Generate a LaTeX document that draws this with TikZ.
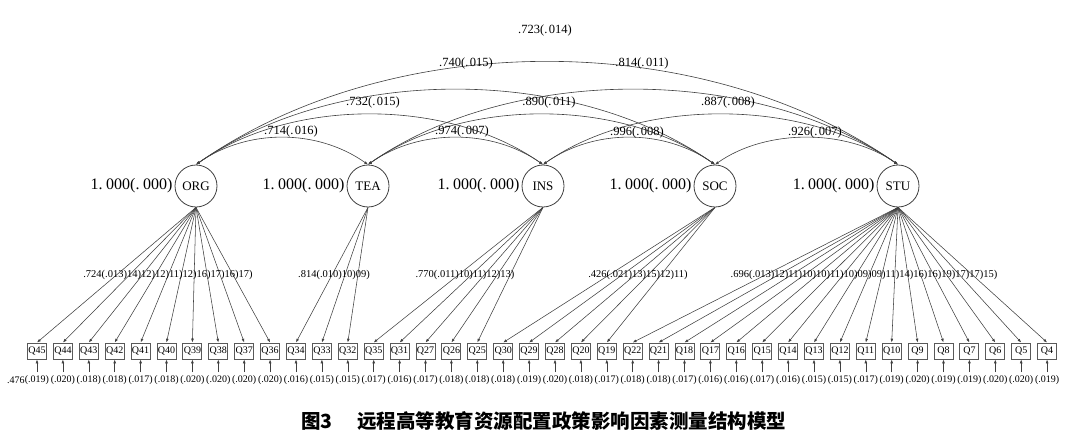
\documentclass[tikz,border=0pt]{standalone}
\usepackage{fontspec}
\setmainfont{Liberation Serif}
\newfontfamily\cjk{Noto Sans CJK SC}
\usepackage{graphicx}
\usetikzlibrary{arrows.meta}
\newcommand\dsp{\kern1.5pt}
\newcommand\bsp{\kern3.5pt}
\begin{document}
\begin{tikzpicture}[x=1pt,y=-1pt,
  lat/.style={circle,draw=black!75,line width=0.8pt,minimum size=42pt,inner sep=0pt,font=\fontsize{13}{13}\selectfont},
  obs/.style={draw=black!65,line width=1pt,minimum width=19pt,minimum height=16pt,inner sep=0pt,font=\fontsize{10}{10}\selectfont},
  ld/.style={draw=black!75,line width=0.55pt,-{Latex[length=3.8pt,width=2.8pt]}},
  cov/.style={draw=black!75,line width=0.6pt,{Latex[length=3.8pt,width=2.8pt]}-{Latex[length=3.8pt,width=2.8pt]}},
  varl/.style={inner sep=0pt,font=\fontsize{16}{16}\selectfont},
  covl/.style={inner sep=0pt,font=\fontsize{12.5}{12.5}\selectfont},
  lodl/.style={inner sep=0pt,font=\fontsize{10.5}{10.5}\selectfont},
  resl/.style={inner sep=0pt,font=\fontsize{10}{10}\selectfont},
  capl/.style={inner sep=0pt,font=\cjk\bfseries\fontsize{19.5}{19.5}\selectfont}
]
\useasboundingbox (0,0) rectangle (1080,434);

% latent factors
\node[lat] (ORG) at (196,186) {ORG};
\node[lat] (TEA) at (368,186) {TEA};
\node[lat] (INS) at (543,186) {INS};
\node[lat] (SOC) at (715,186) {SOC};
\node[lat] (STU) at (898,186) {STU};
\foreach \f in {ORG,TEA,INS,SOC,STU}
  \node[varl,anchor=east] (v\f) at ([xshift=-2pt]\f.west) {1.\bsp000(.\bsp000)};

% covariance arcs
\draw[cov] (ORG.north) .. controls +(51,-36) and +(-51,-36) .. (TEA.north);
\draw[cov] (TEA.north) .. controls +(51,-36) and +(-51,-36) .. (INS.north);
\draw[cov] (INS.north) .. controls +(51,-36) and +(-51,-36) .. (SOC.north);
\draw[cov] (SOC.north) .. controls +(51,-36) and +(-51,-36) .. (STU.north);
\draw[cov] (ORG.north) .. controls +(95,-67) and +(-95,-67) .. (INS.north);
\draw[cov] (TEA.north) .. controls +(95,-67) and +(-95,-67) .. (SOC.north);
\draw[cov] (INS.north) .. controls +(95,-67) and +(-95,-67) .. (STU.north);
\draw[cov] (ORG.north) .. controls +(143,-100) and +(-143,-100) .. (SOC.north);
\draw[cov] (TEA.north) .. controls +(143,-100) and +(-143,-100) .. (STU.north);
\draw[cov] (ORG.north) .. controls +(196,-137) and +(-196,-137) .. (STU.north);

\node[covl] (c15) at (545,30) {.723(.\dsp014)};
\node[covl] (c14) at (466,63) {.740(.\dsp015)};
\node[covl] (c25) at (642,63) {.814(.\dsp011)};
\node[covl] (c13) at (373,102) {.732(.\dsp015)};
\node[covl] (c24) at (549,102) {.890(.\dsp011)};
\node[covl] (c35) at (728,102) {.887(.\dsp008)};
\node[covl] (c12) at (291,131) {.714(.\dsp016)};
\node[covl] (c23) at (462,131) {.974(.\dsp007)};
\node[covl] (c34) at (637,132) {.996(.\dsp008)};
\node[covl] (c45) at (815,132) {.926(.\dsp007)};

% indicators with residuals
\foreach \n/\r [count=\i from 0] in {45/019,44/020,43/018,42/018,41/017,40/018,39/020,38/020,37/020,36/020,34/016,33/015,32/015,35/017,31/016,27/017,26/018,25/018,30/018,29/019,28/020,20/018,19/017,22/018,21/018,18/017,17/016,16/016,15/017,14/016,13/015,12/015,11/017,10/019,9/020,8/019,7/019,6/020,5/020,4/019}{
  \node[obs] (Q\n) at ({37+25.9*\i},351) {Q\n};
  \coordinate (e\n) at ({37+25.9*\i},372);
  \draw[ld] (e\n) -- (Q\n.south);
  \node[resl] (r\n) at ({37+25.9*\i},380) {(.\r)};
}
\node[resl,anchor=east] (r45v) at (r45.west) {.476};

% loadings
\foreach \n in {45,44,43,42,41,40,39,38,37,36} \draw[ld] (ORG.south) -- (Q\n.north);
\foreach \n in {34,33,32} \draw[ld] (TEA.south) -- (Q\n.north);
\foreach \n in {35,31,27,26,25} \draw[ld] (INS.south) -- (Q\n.north);
\foreach \n in {30,29,28,20,19} \draw[ld] (SOC.south) -- (Q\n.north);
\foreach \n in {22,21,18,17,16,15,14,13,12,11,10,9,8,7,6,5,4} \draw[ld] (STU.south) -- (Q\n.north);

\node[lodl] (lORG) at (168,275) {.724(.013)14)12)12)11)12)16)17)16)17)};
\node[lodl] (lTEA) at (334,275) {.814(.010)10)09)};
\node[lodl] (lINS) at (465,275) {.770(.011)10)11)12)13)};
\node[lodl] (lSOC) at (638,275) {.426(.021)13)15)12)11)};
\node[lodl] (lSTU) at (864,275) {.696(.013)12)11)10)10)11)10)09)09)11)14)16)16)19)17)17)15)};

% caption
\node[capl,anchor=west] (cap1) at (301,421) {图3};
\node[capl,anchor=west] (cap2) at (357,421) {远程高等教育资源配置政策影响因素测量结构模型};
\end{tikzpicture}
\end{document}
